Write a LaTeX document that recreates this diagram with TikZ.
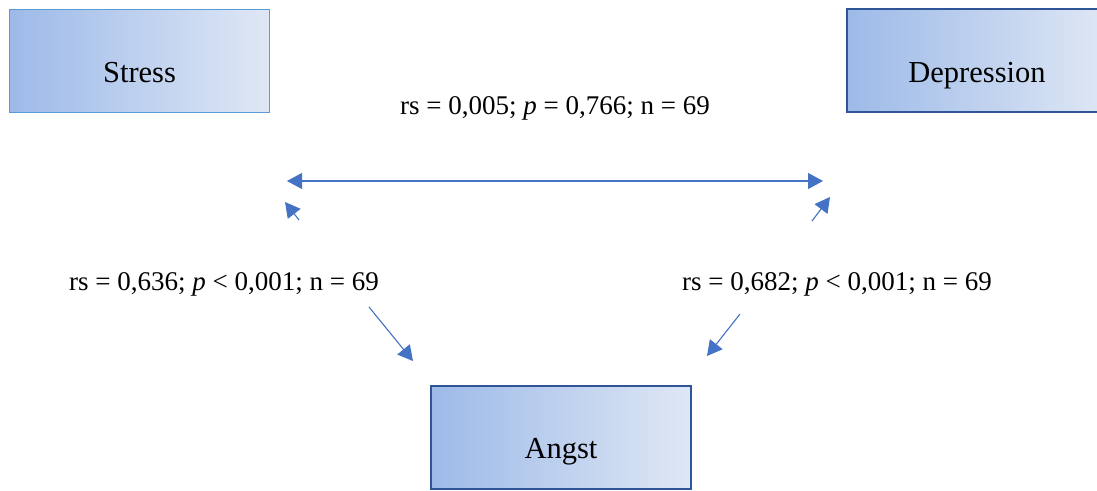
\documentclass[tikz,border=0pt]{standalone}
\usepackage{fontspec}
\setmainfont{Liberation Serif}
\usetikzlibrary{arrows.meta}

\definecolor{edgedark}{HTML}{2F5597}
\definecolor{edgelight}{HTML}{5B9BD5}
\definecolor{fillleft}{HTML}{9DBAE8}
\definecolor{fillright}{HTML}{DFE7F5}
\definecolor{arrblue}{HTML}{4472C4}

\begin{document}
\begin{tikzpicture}[x=1pt,y=-1pt,
  varbox/.style={rectangle,left color=fillleft,right color=fillright,
                 minimum width=260pt,minimum height=103pt,inner sep=0pt,
                 text height=43pt,text depth=0pt,
                 font=\fontsize{30.5}{36}\selectfont},
  stat/.style={anchor=base,inner sep=0pt,font=\fontsize{27}{32}\selectfont},
  arr/.style={-{Triangle[length=15pt,width=16pt]},arrblue,line width=1.1pt},
  dblarr/.style={arr,{Triangle[length=15pt,width=16pt]}-{Triangle[length=15pt,width=16pt]}},
]
  \useasboundingbox (0,0) rectangle (1097,490);
  \clip (0,0) rectangle (1097,490);
  \fill[white] (0,0) rectangle (1097,490);

  % Variables
  \node[varbox,draw=edgelight,line width=1pt] (stress) at (139.5,60.5) {Stress};
  \node[varbox,draw=edgedark,line width=2pt] (depr) at (977,60.5) {Depression};
  \node[varbox,draw=edgedark,line width=2pt] (angst) at (561,437) {Angst};

  % Correlations
  \node[stat] (sd) at (555,114) {rs = 0,005; \textit{p} = 0,766; n = 69};
  \node[stat] (sa) at (224,290) {rs = 0,636; \textit{p} < 0,001; n = 69};
  \node[stat] (da) at (837,290) {rs = 0,682; \textit{p} < 0,001; n = 69};

  % Arrow ends
  \coordinate (sdL) at (287,181);
  \coordinate (sdR) at (823,181);
  \coordinate (saT) at (299,220);
  \coordinate (saH) at (285,202);
  \coordinate (daT) at (812,221);
  \coordinate (daH) at (830,197);
  \coordinate (asT) at (369,307);
  \coordinate (asH) at (413,361);
  \coordinate (adT) at (740,314);
  \coordinate (adH) at (707,356);

  % Arrows
  \draw[dblarr] (sdL) -- (sdR);
  \draw[arr] (saT) -- (saH);
  \draw[arr] (daT) -- (daH);
  \draw[arr] (asT) -- (asH);
  \draw[arr] (adT) -- (adH);
\end{tikzpicture}
\end{document}
